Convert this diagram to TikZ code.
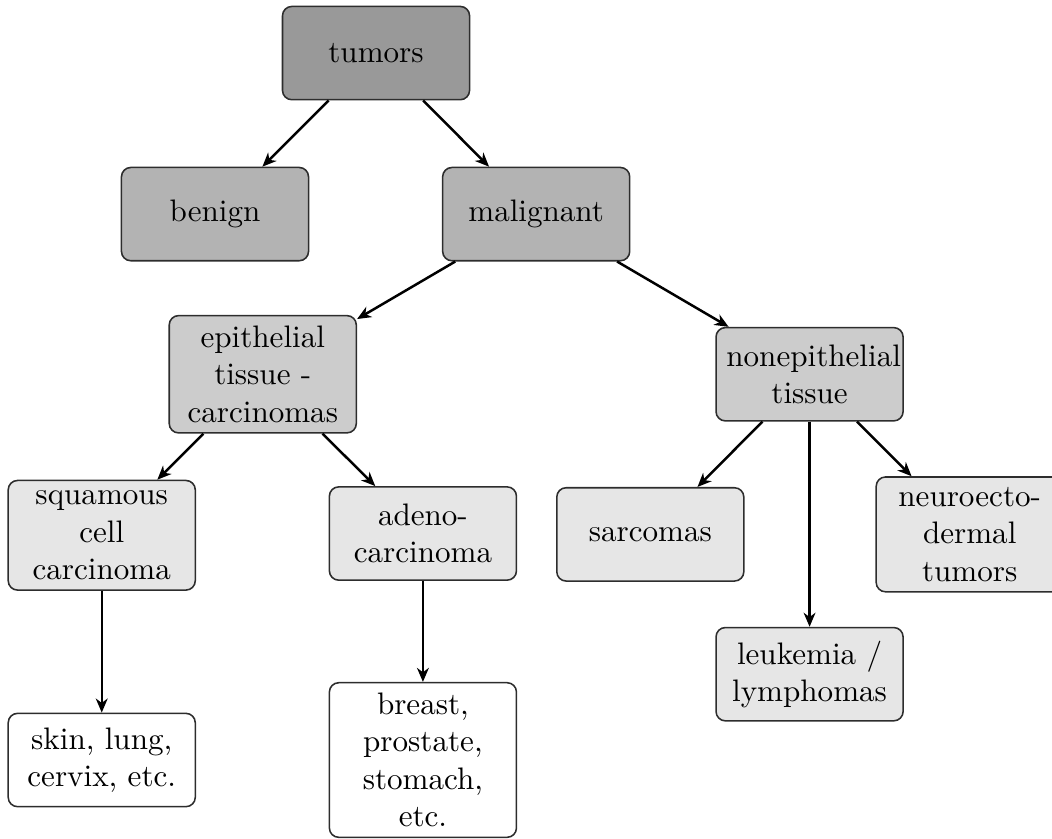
\documentclass[tikz,border=0pt]{standalone}
\usepackage{tikz}
\usetikzlibrary{arrows.meta}
\definecolor{tumorGray}{RGB}{153,153,153}
\definecolor{gradeGray}{RGB}{179,179,179}
\definecolor{tissueGray}{RGB}{204,204,204}
\definecolor{typeGray}{RGB}{230,230,230}
\definecolor{edgeGray}{RGB}{45,45,45}

\begin{document}
\begin{tikzpicture}[
  box/.style={draw=edgeGray, line width=0.5pt, rounded corners=3pt, text width=1.88cm, align=center, minimum height=30pt},
  link/.style={line width=0.8pt, -{Stealth[length=4.5pt,width=3.8pt,inset=1.4pt]}}]
\useasboundingbox (0,0) rectangle (11.89,-9.48);
% tree of tumor types
\node[box, fill=tumorGray] (tumors) at (4.25,-0.60) {tumors};
\node[box, fill=gradeGray] (benign) at (2.43,-2.42) {benign};
\node[box, fill=gradeGray] (malignant) at (6.06,-2.42) {malignant};
\node[box, fill=tissueGray] (epithelial) at (2.97,-4.23) {epithelial\\ tissue -\\ carcinomas};
\node[box, fill=tissueGray] (nonepithelial) at (9.15,-4.23) {nonepithelial\\ tissue};
\node[box, fill=typeGray] (squamous) at (1.15,-6.05) {squamous\\ cell\\ carcinoma};
\node[box, fill=typeGray] (adeno) at (4.78,-6.03) {adeno-\\ carcinoma};
\node[box, fill=typeGray] (sarcomas) at (7.35,-6.04) {sarcomas};
\node[box, fill=typeGray] (neuro) at (10.96,-6.04) {neuroecto-\\ dermal\\ tumors};
\node[box, fill=typeGray] (leukemia) at (9.15,-7.62) {leukemia /\\ lymphomas};
% example sites
\node[box, fill=white] (skin) at (1.15,-8.59) {skin, lung,\\ cervix, etc.};
\node[box, fill=white] (breast) at (4.78,-8.59) {breast,\\ prostate,\\ stomach,\\ etc.};
\draw[link] (tumors) -- (benign);
\draw[link] (tumors) -- (malignant);
\draw[link] (malignant) -- (epithelial);
\draw[link] (malignant) -- (nonepithelial);
\draw[link] (epithelial) -- (squamous);
\draw[link] (epithelial) -- (adeno);
\draw[link] (nonepithelial) -- (sarcomas);
\draw[link] (nonepithelial) -- (leukemia);
\draw[link] (nonepithelial) -- (neuro);
\draw[link] (squamous) -- (skin);
\draw[link] (adeno) -- (breast);
\end{tikzpicture}
\end{document}
